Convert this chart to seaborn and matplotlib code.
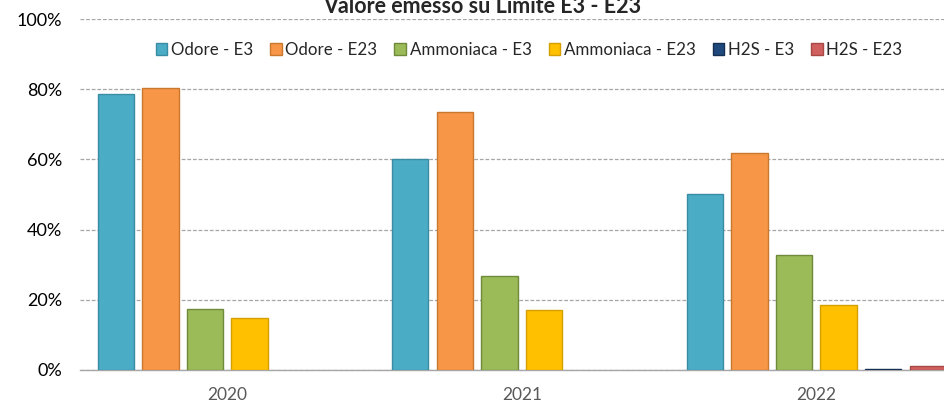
import pandas as pd
import seaborn as sns
import matplotlib.pyplot as plt
import numpy as np

# dati
anni = ['2020', '2021', '2022']
serie = ['Odore - E3', 'Odore - E23', 'Ammoniaca - E3', 'Ammoniaca - E23', 'H2S - E3', 'H2S - E23']
odore_e3 = [78.6, 60.0, 50.2]
odore_e23 = [80.2, 73.6, 61.9]
ammoniaca_e3 = [17.4, 26.7, 32.9]
ammoniaca_e23 = [14.8, 17.1, 18.6]
h2s_e3 = [0.0, 0.0, 0.3]
h2s_e23 = [0.0, 0.0, 1.1]

colori = ['#4BACC6', '#F79646', '#9BBB59', '#FFC000', '#1F497D', '#D0605E']
bordi = ['#3A8CA3', '#C97830', '#6E8A3A', '#D4A000', '#152F52', '#A84845']

valori = [odore_e3, odore_e23, ammoniaca_e3, ammoniaca_e23, h2s_e3, h2s_e23]
righe = []
for s, vals in zip(serie, valori):
    for a, v in zip(anni, vals):
        righe.append({'Anno': a, 'Serie': s, 'Valore': v})
df = pd.DataFrame(righe)

sns.set_theme(style="white")
plt.rcParams['font.family'] = ['Lato', 'DejaVu Sans']

fig = plt.figure(figsize=(9.45, 4.04), dpi=100)
ax = fig.add_axes([80 / 945, 34 / 404, 883.5 / 945, 351 / 404])

sns.barplot(
    data=df, x='Anno', y='Valore', hue='Serie',
    hue_order=serie, order=anni,
    palette=colori, width=0.907, gap=0.19,
    saturation=1, errorbar=None, ax=ax, zorder=3
)

# bordi piu scuri sulle barre (niente bordo se il valore e zero)
for i, cont in enumerate(ax.containers):
    for p in cont:
        p.set_edgecolor(bordi[i])
        p.set_linewidth(1.0 if p.get_height() > 0 else 0)

ax.set_ylim(0, 100)
ax.set_xlim(-0.5, 2.5)
ax.set_yticks(np.arange(0, 101, 20))
ax.set_yticklabels([f'{t}%' for t in range(0, 101, 20)])
ax.yaxis.grid(True, linestyle=(0, (3, 1.5)), color='#A6A6A6', linewidth=0.9, zorder=0)
ax.set_axisbelow(True)

ax.set_xlabel('')
ax.set_ylabel('')
for sp in ['top', 'right', 'left']:
    ax.spines[sp].set_visible(False)
ax.spines['bottom'].set_color('#A6A6A6')
ax.spines['bottom'].set_linewidth(1.0)

ax.tick_params(axis='y', length=0, pad=13, labelsize=13, labelcolor='black')
ax.tick_params(axis='x', length=0, pad=12, labelsize=12.5, labelcolor='#595959')

leg = ax.legend(
    loc='center', bbox_to_anchor=((529 - 80) / 883.5, 0.912),
    ncol=6, frameon=False, fontsize=12.2,
    handlelength=0.7, handleheight=0.7, handletextpad=0.2,
    columnspacing=1.0, borderaxespad=0
)
for h, b in zip(leg.legend_handles, bordi):
    h.set_edgecolor(b)

fig.text(482 / 945, 1 - 13 / 404, 'Valore emesso su Limite E3 - E23',
         ha='center', va='baseline', fontsize=15.5, fontweight='bold')

fig.savefig('out.png', dpi=100)
